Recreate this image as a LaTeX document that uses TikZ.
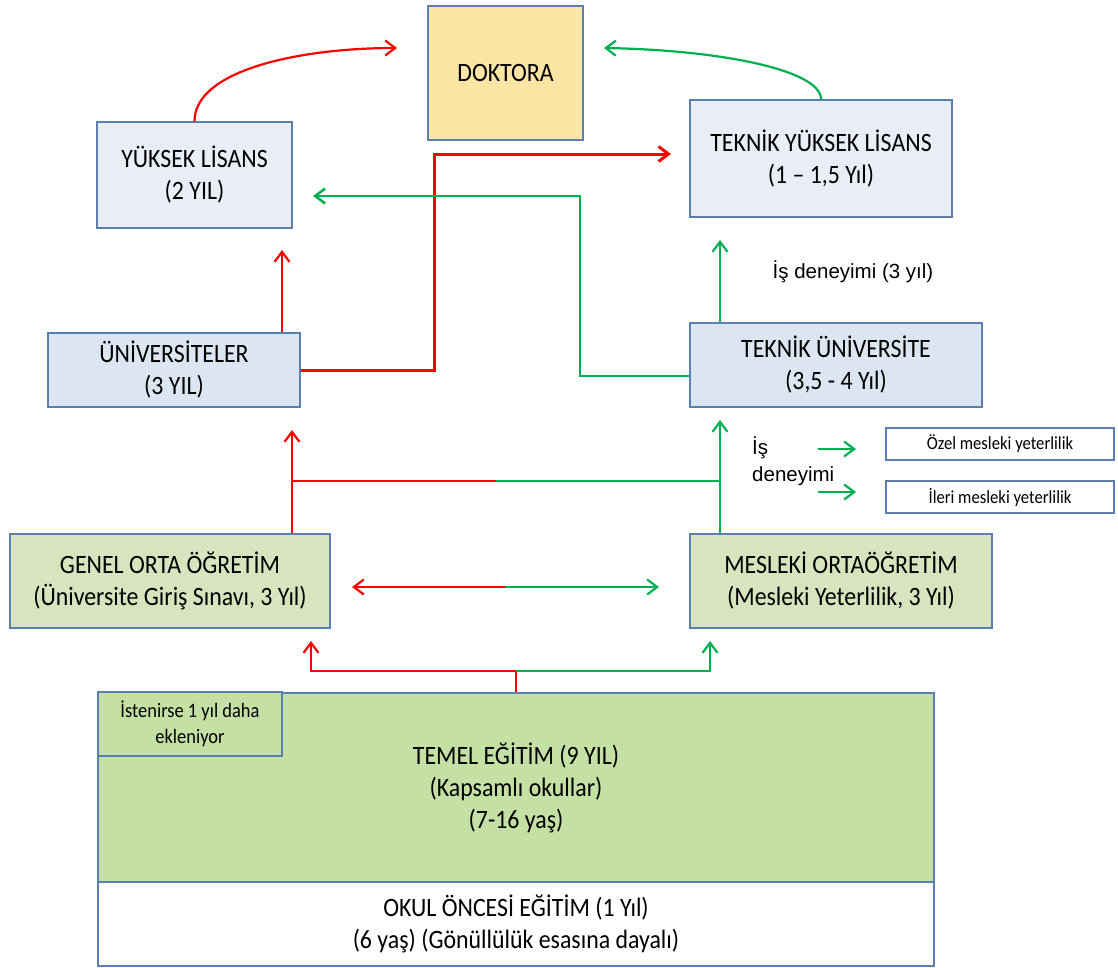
\documentclass[tikz,border=0pt]{standalone}
\usepackage{fontspec}
\setmainfont[FakeStretch=0.9]{Carlito}
\newfontfamily\arialf{Liberation Sans}
\usetikzlibrary{arrows.meta}
\definecolor{bord}{HTML}{5B80B0}
\definecolor{dokfill}{HTML}{FBE5A4}
\definecolor{lavfill}{HTML}{E9EDF6}
\definecolor{bluefill}{HTML}{DCE6F2}
\definecolor{midgreen}{HTML}{D7E4BD}
\definecolor{strgreen}{HTML}{C5E0A4}
\definecolor{redc}{HTML}{FF0000}
\definecolor{grnc}{HTML}{00B050}
\begin{document}
\begin{tikzpicture}[x=1pt,y=-1pt,
  box/.style={draw=bord, line width=1.5pt, align=center, inner sep=0pt,
    font=\fontsize{26.5}{32}\selectfont},
  smallbox/.style={draw=bord, line width=1.5pt, align=center, inner sep=0pt,
    font=\fontsize{18.5}{20}\selectfont, fill=white},
  conn/.style={line width=2.2pt},
  tip/.style={-{Straight Barb[length=10pt,width=15pt]}},
  rl/.style={conn, draw=redc},
  gl/.style={conn, draw=grnc}]
\useasboundingbox (0,0) rectangle (1118,967);
% boxes
\node[box, fill=dokfill, minimum width=155pt, minimum height=134pt] (dok) at (505.5,73) {DOKTORA};
\node[box, fill=lavfill, minimum width=195pt, minimum height=106pt] (yl) at (194.5,175) {YÜKSEK LİSANS\\(2 YIL)};
\node[box, fill=lavfill, minimum width=262pt, minimum height=117pt] (tyl) at (821,158.5) {TEKNİK YÜKSEK LİSANS\\(1 – 1,5 Yıl)};
\node[box, fill=bluefill, minimum width=252pt, minimum height=74pt] (uni) at (174,370) {ÜNİVERSİTELER\\(3 YIL)};
\node[box, fill=bluefill, minimum width=292pt, minimum height=84pt] (tu) at (836,365) {TEKNİK ÜNİVERSİTE\\(3,5 - 4 Yıl)};
\node[smallbox, minimum width=228pt, minimum height=32pt] (ozel) at (1000,444) {Özel mesleki yeterlilik};
\node[smallbox, minimum width=228pt, minimum height=32pt] (ileri) at (1000,497) {İleri mesleki yeterlilik};
\node[box, fill=midgreen, minimum width=320pt, minimum height=94pt] (genel) at (170,581) {GENEL ORTA ÖĞRETİM\\(Üniversite Giriş Sınavı, 3 Yıl)};
\node[box, fill=midgreen, minimum width=302pt, minimum height=94pt] (mes) at (841,581) {MESLEKİ ORTAÖĞRETİM\\(Mesleki Yeterlilik, 3 Yıl)};
\node[box, fill=strgreen, minimum width=836pt, minimum height=190pt] (temel) at (516,788) {TEMEL EĞİTİM (9 YIL)\\(Kapsamlı okullar)\\(7-16 yaş)};
\node[box, fill=strgreen, minimum width=184pt, minimum height=64pt, font=\fontsize{20.5}{26}\selectfont] (small) at (190,724) {İstenirse 1 yıl daha\\ekleniyor};
\node[box, fill=white, minimum width=836pt, minimum height=84pt] (okul) at (516,924) {OKUL ÖNCESİ EĞİTİM (1 Yıl)\\(6 yaş) (Gönüllülük esasına dayalı)};
% texts
\node[font=\arialf\fontsize{20.5}{27}\selectfont, inner sep=0pt] (is3) at (853,272) {İş deneyimi (3 yıl)};
\node[font=\arialf\fontsize{20.5}{27}\selectfont, inner sep=0pt, align=left, anchor=west] (is) at (752,461) {İş\\deneyimi};
% coordinates
\coordinate (dokL) at (397,48);
\coordinate (dokR) at (604,48);
\coordinate (rturn) at (434,154);
\coordinate (tylIn) at (671,154);
\coordinate (gturn) at (580,196);
\coordinate (ylIn) at (313,196);
\coordinate (ylUp) at (282,250);
\coordinate (tylUp) at (720,240);
\coordinate (uniUp) at (292,430);
\coordinate (tuUp) at (720,420);
\coordinate (h1) at (292,481);
\coordinate (hm) at (496,481);
\coordinate (h2) at (720,481);
\coordinate (dL) at (352,587);
\coordinate (dM) at (505,587);
\coordinate (dR) at (659,587);
\coordinate (bM) at (516,671);
\coordinate (bL) at (311,671);
\coordinate (bR) at (710,671);
\coordinate (bLt) at (311,641);
\coordinate (bRt) at (710,641);
\coordinate (a1s) at (818,449);
\coordinate (a1e) at (856,449);
\coordinate (a2s) at (818,492);
\coordinate (a2e) at (856,492);
% connectors
\draw[rl, tip] (yl.north) .. controls (194.5,70) and (300,48) .. (dokL);
\draw[gl, tip] (tyl.north) .. controls (821,70) and (720,50) .. (dokR);
\draw[rl, line width=3pt, tip] (uni.east) -| (rturn) -- (tylIn);
\draw[gl, line width=2.6pt, tip] ([yshift=-11pt]tu.west) -| (gturn) -- (ylIn);
\draw[rl, tip] (uni.north -| ylUp) -- (ylUp);
\draw[gl, tip] (tu.north -| tylUp) -- (tylUp);
\draw[rl, tip] (genel.north -| uniUp) -- (uniUp);
\draw[gl, tip] (mes.north -| tuUp) -- (tuUp);
\draw[rl] (h1) -- (hm);
\draw[gl] (hm) -- (h2);
\draw[rl, tip] (dM) -- (dL);
\draw[gl, tip] (dM) -- (dR);
\draw[rl] (temel.north) -- (bM);
\draw[rl, tip] (bM) -- (bL) -- (bLt);
\draw[gl, tip] (bM) -- (bR) -- (bRt);
\draw[gl, tip] (a1s) -- (a1e);
\draw[gl, tip] (a2s) -- (a2e);
\end{tikzpicture}
\end{document}
